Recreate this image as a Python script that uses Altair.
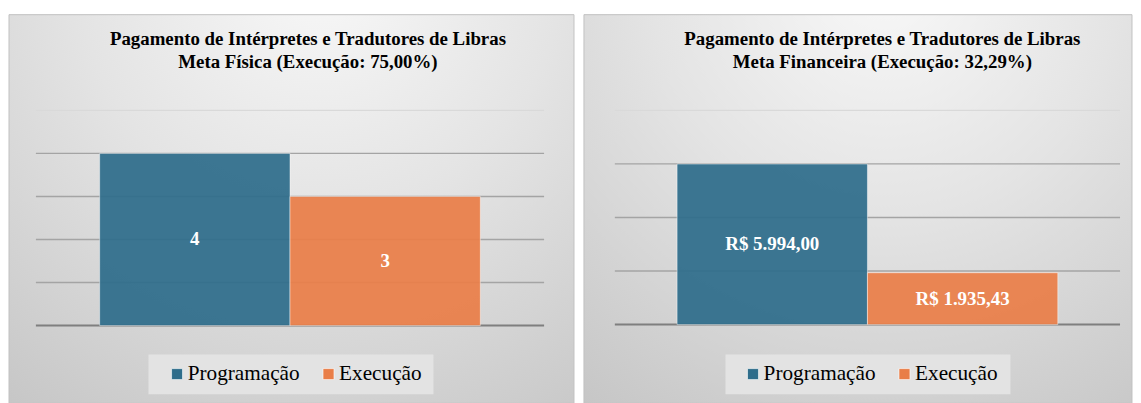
import altair as alt
import pandas as pd

# ---------------- data ----------------
series = ["Programação", "Execução"]
meta_fisica = [4, 3]
meta_financeira = [5994.00, 1935.43]
grid_fisica = [0, 1, 2, 3, 4, 5]
grid_financeira = [0, 2000, 4000, 6000, 8000]
title_fisica = ["Pagamento de Intérpretes e Tradutores de Libras",
                "Meta Física (Execução: 75,00%)"]
title_financeira = ["Pagamento de Intérpretes e Tradutores de Libras",
                    "Meta Financeira (Execução: 32,29%)"]
colors = ["#2E6D8B", "#E97E48"]

FONT = "Liberation Serif"


def brl(v):
    s = f"{v:,.2f}"
    s = s.replace(",", "X").replace(".", ",").replace("X", ".")
    return "R$ " + s


def panel(values, labels, grid, width, height, pad_outer, bg_x, bg_x2,
          title_lines, title_cx, box_x, legend_x):
    df = pd.DataFrame({"serie": series, "valor": values, "rotulo": labels})
    gdf = pd.DataFrame({"v": grid})
    ymax = grid[-1]
    yscale = alt.Scale(domain=[0, ymax], nice=False, zero=True)
    xscale = alt.Scale(domain=series, paddingInner=0, paddingOuter=pad_outer)

    grad = alt.RadialGradient(
        gradient="radial",
        stops=[alt.GradientStop(color="#f8f8f8", offset=0),
               alt.GradientStop(color="#e4e4e4", offset=0.45),
               alt.GradientStop(color="#c6c6c6", offset=1)],
        x1=0.55, y1=0.08, r1=0, x2=0.55, y2=0.08, r2=0.95)

    one = alt.Data(values=[{}])

    bg = alt.Chart(one).mark_rect(fill=grad, stroke="#c2c2c2", strokeWidth=1).encode(
        x=alt.value(bg_x), x2=alt.value(bg_x2), y=alt.value(-96), y2=alt.value(294))

    title = alt.Chart(one).mark_text(
        font=FONT, fontSize=18.9, fontWeight="bold", color="#000000",
        align="center", baseline="alphabetic", lineHeight=24).encode(
        x=alt.value(title_cx), y=alt.value(-66), text=alt.value(title_lines))

    legend_box = alt.Chart(one).mark_rect(fill="#e3e3e3").encode(
        x=alt.value(box_x), x2=alt.value(box_x + 286), y=alt.value(245), y2=alt.value(285))

    grid_mid = alt.Chart(gdf).transform_filter(
        f"datum.v > 0 && datum.v < {ymax}").mark_rule(color="#a4a4a4", strokeWidth=1.4).encode(
        y=alt.Y("v:Q", scale=yscale, axis=None), x=alt.value(0), x2=alt.value(width))
    grid_top = alt.Chart(gdf).transform_filter(
        f"datum.v == {ymax}").mark_rule(color="#d9d9d9", strokeWidth=1.4).encode(
        y=alt.Y("v:Q", scale=yscale, axis=None), x=alt.value(0), x2=alt.value(width))
    grid_base = alt.Chart(gdf).transform_filter(
        "datum.v == 0").mark_rule(color="#7f7f7f", strokeWidth=2).encode(
        y=alt.Y("v:Q", scale=yscale, axis=None), x=alt.value(0), x2=alt.value(width))

    bars = alt.Chart(df).mark_bar(
        fillOpacity=0.93, stroke="#ffffff", strokeOpacity=0.45, strokeWidth=1).encode(
        x=alt.X("serie:N", sort=series, scale=xscale, axis=None),
        y=alt.Y("valor:Q", scale=yscale, axis=None),
        color=alt.Color("serie:N", sort=series,
                        scale=alt.Scale(domain=series, range=colors),
                        legend=alt.Legend(
                            title=None, orient="none", legendX=legend_x, legendY=254,
                            direction="horizontal", symbolType="square",
                            symbolSize=121, symbolStrokeColor="#ffffff",
                            symbolStrokeWidth=0.6, symbolOpacity=1,
                            labelFont=FONT, labelFontSize=21.3, labelColor="#000000",
                            labelOffset=0, columnPadding=18, padding=0)))

    text = alt.Chart(df).transform_calculate(meio="datum.valor / 2").mark_text(
        font=FONT, fontSize=19, fontWeight="bold", color="#ffffff",
        align="center", baseline="middle").encode(
        x=alt.X("serie:N", sort=series, scale=xscale, axis=None),
        y=alt.Y("meio:Q", scale=yscale, axis=None),
        text="rotulo:N")

    return alt.layer(bg, title, legend_box, grid_mid, grid_top, grid_base, bars, text).properties(
        width=width, height=height)


left = panel(meta_fisica, [str(v) for v in meta_fisica], grid_fisica,
             510, 216, 0.335, -27, 540, title_fisica, 273, 113, 131)
right = panel(meta_financeira, [brl(v) for v in meta_financeira], grid_financeira,
              507, 215, 0.327, -31, 519, title_financeira, 268.5, 111, 128)

chart = alt.hconcat(left, right, spacing=8).resolve_scale(
    x="independent", y="independent", color="independent"
).resolve_legend(color="independent").properties(
    padding={"left": 0, "top": 5, "right": 0, "bottom": 0}
).configure_view(strokeWidth=0)

chart.save("out.html", embed_options={"renderer": "svg", "actions": False})
